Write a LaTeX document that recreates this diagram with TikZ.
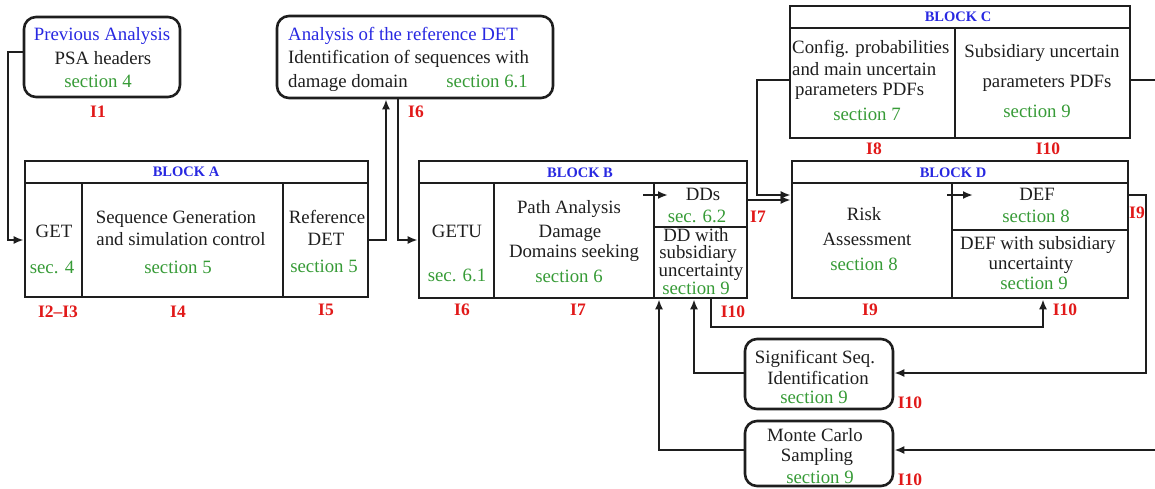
\documentclass[tikz,border=0pt]{standalone}
\usepackage{fontspec}
\setmainfont{Liberation Serif}
\usetikzlibrary{arrows.meta,fit}

\definecolor{ink}{RGB}{30,30,30}
\definecolor{ttlblue}{RGB}{40,40,225}
\definecolor{secgreen}{RGB}{55,155,55}
\definecolor{tagred}{RGB}{225,25,25}

\newcommand\dgbody{\fontsize{18.8}{22}\selectfont}
\newcommand\dghdr{\fontsize{14.5}{16}\selectfont\bfseries}
\newcommand\dgtag{\fontsize{17.5}{20}\selectfont\bfseries}

% \mkcell[style]{name}{x1}{y1}{x2}{y2}: a framed cell spanning two corners
\newcommand\mkcell[6][cellbox]{%
  \coordinate (#2-a) at (#3,#4);
  \coordinate (#2-b) at (#5,#6);
  \node[#1, fit=(#2-a)(#2-b)] (#2) {};}

\begin{document}
\begin{tikzpicture}[x=1pt,y=-1pt,
  cellbox/.style={draw=ink, line width=2.6pt, inner sep=0pt},
  rbox/.style={cellbox, rounded corners=12pt},
  txt/.style={text=ink, font=\dgbody, inner sep=0pt, text height=12pt, text depth=2pt},
  sec/.style={txt, text=secgreen},
  ttl/.style={txt, text=ttlblue},
  hdr/.style={text=ttlblue, font=\dghdr, inner sep=0pt},
  tag/.style={text=tagred, font=\dgtag, inner sep=0pt},
  conn/.style={draw=ink, line width=2.3pt},
  arr/.style={conn, -{Latex[length=10pt,width=8pt]}}]

\useasboundingbox (0,0) rectangle (1155,488);
\clip (0,0) rectangle (1155,488);

% ---------- previous analysis ----------
\mkcell[rbox]{prev}{24}{17}{180}{97}
\node[ttl] (prevT) at (102,35) {Previous Analysis};
\node[txt] (prevA) at (103,59) {PSA headers};
\node[sec] (prevS) at (98,82) {section 4};
\node[tag] (tI1) at (98,112) {I1};

% ---------- analysis of the reference DET ----------
\mkcell[rbox]{ana}{277}{16}{553}{98}
\node[ttl, anchor=west] (anaT) at (288,35) {Analysis of the reference DET};
\node[txt, anchor=west] (anaA) at (288,58) {Identification of sequences with};
\node[txt, anchor=west] (anaB) at (288,82) {damage domain};
\node[sec, anchor=east] (anaS) at (528,82) {section 6.1};
\node[tag] (tI6a) at (416,112) {I6};

% ---------- block A ----------
\mkcell{aHead}{25}{161}{368}{183}
\mkcell{aGet}{25}{183}{82}{297}
\mkcell{aSeq}{82}{183}{283}{297}
\mkcell{aRef}{283}{183}{368}{297}
\node[hdr] (aH) at (186,172) {BLOCK A};
\node[txt] (aG1) at (54,232) {GET};
\node[sec] (aG2) at (52,268) {sec. 4};
\node[txt] (aS1) at (176,218) {Sequence Generation};
\node[txt] (aS2) at (181,240) {and simulation control};
\node[sec] (aS3) at (178,268) {section 5};
\node[txt] (aR1) at (327,218) {Reference};
\node[txt] (aR2) at (326,240) {DET};
\node[sec] (aR3) at (324,267) {section 5};
\node[tag] (tI23) at (58,312) {I2--I3};
\node[tag] (tI4) at (178,312) {I4};
\node[tag] (tI5) at (326,310) {I5};

% ---------- block B ----------
\mkcell{bHead}{419}{161}{747}{183}
\mkcell{bGetu}{419}{183}{494}{298}
\mkcell{bPath}{494}{183}{654}{298}
\mkcell{bDD}{654}{183}{747}{227}
\mkcell{bDDsub}{654}{227}{747}{298}
\node[hdr] (bH) at (580,173) {BLOCK B};
\node[txt] (bG1) at (457,232) {GETU};
\node[sec] (bG2) at (457,276) {sec. 6.1};
\node[txt] (bP1) at (569,208) {Path Analysis};
\node[txt] (bP2) at (570,232) {Damage};
\node[txt] (bP3) at (574,252) {Domains seeking};
\node[sec] (bP4) at (569,277) {section 6};
\node[txt] (bD1) at (703,195) {DDs};
\node[sec] (bD2) at (697,217) {sec. 6.2};
\node[txt] (bU1) at (696,236) {DD with};
\node[txt] (bU2) at (698,253) {subsidiary};
\node[txt] (bU3) at (701,271) {uncertainty};
\node[sec] (bU4) at (696,289) {section 9};
\node[tag] (tI6b) at (462,310) {I6};
\node[tag] (tI7a) at (578,310) {I7};
\node[tag] (tI10a) at (733,312) {I10};
\node[tag] (tI7b) at (758,217) {I7};

% ---------- block C ----------
\mkcell{cHead}{790}{6}{1130}{28}
\mkcell{cConf}{790}{28}{955}{138}
\mkcell{cSub}{955}{28}{1130}{138}
\node[hdr] (cH) at (958,17) {BLOCK C};
\node[txt, anchor=west] (cC1) at (792,48) {Config. probabilities};
\node[txt, anchor=west] (cC2) at (792,70) {and main uncertain};
\node[txt, anchor=west] (cC3) at (795,90) {parameters PDFs};
\node[sec] (cC4) at (867,115) {section 7};
\node[txt] (cS1) at (1042,52) {Subsidiary uncertain};
\node[txt] (cS2) at (1047,82) {parameters PDFs};
\node[sec] (cS3) at (1037,112) {section 9};
\node[tag] (tI8) at (874,149) {I8};
\node[tag] (tI10b) at (1048,149) {I10};

% ---------- block D ----------
\mkcell{dHead}{792}{161}{1128}{183}
\mkcell{dRisk}{792}{183}{952}{298}
\mkcell{dDef}{952}{183}{1128}{230}
\mkcell{dDefsub}{952}{230}{1128}{298}
\node[hdr] (dH) at (953,173) {BLOCK D};
\node[txt] (dR1) at (864,215) {Risk};
\node[txt] (dR2) at (867,240) {Assessment};
\node[sec] (dR3) at (864,265) {section 8};
\node[txt] (dF1) at (1037,195) {DEF};
\node[sec] (dF2) at (1036,217) {section 8};
\node[txt] (dU1) at (1038,244) {DEF with subsidiary};
\node[txt] (dU2) at (1031,264) {uncertainty};
\node[sec] (dU3) at (1034,284) {section 9};
\node[tag] (tI9a) at (870,310) {I9};
\node[tag] (tI10c) at (1065,310) {I10};
\node[tag] (tI9b) at (1137,213) {I9};

% ---------- lower boxes ----------
\mkcell[rbox]{sig}{745}{339}{893}{409}
\node[txt] (sg1) at (815,358) {Significant Seq.};
\node[txt] (sg2) at (818,379) {Identification};
\node[sec] (sg3) at (814,398) {section 9};
\node[tag] (tI10d) at (910,403) {I10};

\mkcell[rbox]{mc}{745}{421}{893}{486}
\node[txt] (mc1) at (815,436) {Monte Carlo};
\node[txt] (mc2) at (817,456) {Sampling};
\node[sec] (mc3) at (820,478) {section 9};
\node[tag] (tI10e) at (910,480) {I10};

% ---------- connectors ----------
\draw[arr] (prev.west |- 0,52) -| (8,240) -- (aGet.west |- 0,240);
\draw[arr] (aRef.east |- 0,240) -| (ana.south -| 386,0);
\draw[arr] (ana.south -| 398,0) |- (bGetu.west |- 0,240);

\coordinate (pathOut) at (643,195);
\coordinate (ddIn) at (668,195);
\draw[arr] (pathOut) -- (ddIn);

\draw[arr] (bDD.east |- 0,200) -- (dRisk.west |- 0,200);
\draw[arr] (cConf.west |- 0,80) -| (757,195) -- (dRisk.west |- 0,195);

\coordinate (riskOut) at (947,195);
\coordinate (defIn) at (973,195);
\draw[arr] (riskOut) -- (defIn);

\draw[arr] (dDef.east |- 0,195) -| (1146,373) -- (sig.east |- 0,373);
\draw[arr] (cSub.east |- 0,80) -- (1175,80) -- (1175,450) -- (mc.east |- 0,450);

\draw[arr] (sig.west |- 0,373) -| (bDDsub.south -| 694,0);
\draw[arr] (mc.west |- 0,450) -| (bDDsub.south -| 659,0);
\draw[arr] (bDDsub.south -| 711,0) |- (1043,327) -- (dDefsub.south -| 1043,0);

\end{tikzpicture}
\end{document}
